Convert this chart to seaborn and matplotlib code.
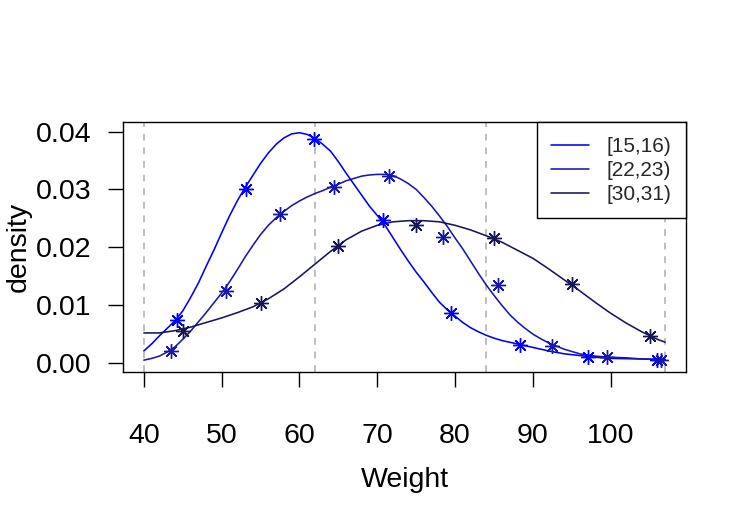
import numpy as np
import pandas as pd
import matplotlib
matplotlib.use("Agg")
import matplotlib.pyplot as plt
import seaborn as sns

# ---------------- data ----------------
labels = ["[15,16)", "[22,23)", "[30,31)"]
colors = ["#0000FF", "#1818B0", "#17175A"]

# density curve [15,16)
c15_x = [40, 41, 42, 43, 44, 45, 46, 47, 48, 49, 50, 51, 52, 53, 54, 55, 56, 57, 58, 59,
         60, 61, 62, 63, 64, 65, 66, 67, 68, 69, 70, 71, 72, 73, 74, 75, 76, 77, 78, 79,
         80, 81, 82, 83, 84, 85, 86, 87, 88, 89, 90, 92, 94, 96, 98, 100, 102, 104, 106, 107]
c15_y = [0.0021, 0.0033, 0.0047, 0.0060, 0.0073, 0.0090, 0.0113, 0.0138, 0.0167, 0.0195,
         0.0225, 0.0254, 0.0280, 0.0303, 0.0324, 0.0345, 0.0363, 0.0378, 0.0389, 0.0396,
         0.0398, 0.0395, 0.0388, 0.0378, 0.0366, 0.0348, 0.0328, 0.0309, 0.0290, 0.0271,
         0.0255, 0.0238, 0.0217, 0.0196, 0.0176, 0.0157, 0.0140, 0.0122, 0.0105, 0.0092,
         0.0081, 0.0070, 0.0061, 0.0054, 0.0048, 0.0043, 0.0039, 0.0036, 0.0033, 0.0030,
         0.0027, 0.0021, 0.0016, 0.0013, 0.0010, 0.0008, 0.00075, 0.0007, 0.00065, 0.00063]

# density curve [22,23)
c22_x = [40, 41, 42, 43, 44, 45, 46, 47, 48, 49, 50, 51, 52, 53, 54, 55, 56, 57, 58, 59,
         60, 61, 62, 63, 64, 65, 66, 67, 68, 69, 70, 71, 72, 73, 74, 75, 76, 77, 78, 79,
         80, 81, 82, 83, 84, 85, 86, 87, 88, 89, 90, 91, 92, 94, 96, 98, 100, 102, 104, 106, 107]
c22_y = [0.0005, 0.0008, 0.0012, 0.0019, 0.0028, 0.0041, 0.0055, 0.0071, 0.0087, 0.0104,
         0.0121, 0.0140, 0.0161, 0.0183, 0.0203, 0.0222, 0.0238, 0.0251, 0.0262, 0.0272,
         0.0280, 0.0287, 0.0293, 0.0298, 0.0304, 0.0309, 0.0315, 0.0319, 0.0323, 0.0325,
         0.0326, 0.0326, 0.0324, 0.0318, 0.0310, 0.0300, 0.0286, 0.0271, 0.0254, 0.0236,
         0.0216, 0.0197, 0.0176, 0.0155, 0.0135, 0.0117, 0.0100, 0.0084, 0.0071, 0.0060,
         0.0050, 0.0042, 0.0035, 0.0024, 0.0016, 0.0012, 0.0010, 0.0009, 0.0007, 0.00065, 0.00063]

# density curve [30,31)
c30_x = [40, 42, 44, 46, 48, 50, 52, 54, 56, 58, 60, 62, 64, 66, 68, 70, 72, 74, 76, 78,
         80, 82, 84, 86, 88, 90, 92, 94, 96, 98, 100, 102, 104, 106, 107]
c30_y = [0.0052, 0.0052, 0.0056, 0.0062, 0.0070, 0.0078, 0.0087, 0.0097, 0.0111, 0.0128,
         0.0149, 0.0171, 0.0193, 0.0213, 0.0228, 0.0238, 0.0244, 0.0246, 0.0246, 0.0244,
         0.0238, 0.0230, 0.0220, 0.0209, 0.0195, 0.0181, 0.0163, 0.0144, 0.0125, 0.0105,
         0.0086, 0.0069, 0.0054, 0.0041, 0.0036]

# observed points (asterisks)
pts_15_x = [44.3, 53.1, 61.9, 70.7, 79.5, 88.3, 97.1, 105.9]
pts_15_y = [0.0075, 0.0300, 0.0387, 0.0248, 0.0086, 0.0031, 0.0011, 0.0006]
pts_22_x = [43.5, 50.5, 57.5, 64.5, 71.5, 78.5, 85.5, 92.5, 99.5, 106.5]
pts_22_y = [0.0021, 0.0124, 0.0257, 0.0305, 0.0324, 0.0217, 0.0134, 0.0029, 0.0011, 0.0006]
pts_30_x = [45.0, 55.0, 65.0, 75.0, 85.0, 95.0, 105.0]
pts_30_y = [0.0056, 0.0103, 0.0203, 0.0239, 0.0216, 0.0137, 0.0046]

vlines = [40, 62, 84, 107]
xticks = [40, 50, 60, 70, 80, 90, 100]
yticks = [0.00, 0.01, 0.02, 0.03, 0.04]

# ---------------- figure ----------------
sns.set_theme(style="white")
plt.rcParams["font.family"] = ["Liberation Sans", "DejaVu Sans"]

fig = plt.figure(figsize=(7.5, 5.25), dpi=100)
ax = fig.add_axes([123 / 750, 1 - 372.3 / 525, (686 - 123) / 750, (372.3 - 122.3) / 525])

for v in vlines:
    ax.axvline(v, color="#BEBEBE", lw=1.4, ls=(0, (3.5, 3.5)), zorder=1)

curves = [(c15_x, c15_y), (c22_x, c22_y), (c30_x, c30_y)]
pts = [(pts_15_x, pts_15_y), (pts_22_x, pts_22_y), (pts_30_x, pts_30_y)]
for lab, col, (cx, cy), (px, py) in zip(labels, colors, curves, pts):
    df = pd.DataFrame({"x": cx, "y": cy})
    sns.lineplot(data=df, x="x", y="y", ax=ax, color=col, lw=1.15, label=lab,
                 estimator=None, sort=True, zorder=3)
    ax.plot(px, py, ls="none", marker=(8, 2, 0), markersize=10.5, mew=1.0,
            color=col, zorder=4)

ax.set_xlim(37.32, 109.68)
ax.set_ylim(-0.0016, 0.0416)
ax.set_xticks(xticks)
ax.set_xticklabels([str(t) for t in xticks])
ax.set_yticks(yticks)
ax.set_yticklabels([f"{t:.2f}" for t in yticks])

for s in ax.spines.values():
    s.set_color("black")
    s.set_linewidth(1.0)

ax.tick_params(axis="both", which="both", direction="out", length=10.8, width=1.0,
               color="black", labelsize=20.5, labelcolor="black")
ax.tick_params(axis="x", pad=26, bottom=True, top=False)
ax.tick_params(axis="y", pad=12, left=True, right=False)

ax.set_xlabel("Weight", fontsize=20.5, color="black", labelpad=13)
ax.set_ylabel("density", fontsize=20.5, color="black", labelpad=3)

leg = ax.legend(loc="upper right", borderaxespad=0, fontsize=15,
                frameon=True, fancybox=False, edgecolor="black",
                handlelength=1.8, handletextpad=0.85, borderpad=0.7,
                labelspacing=0.24)
leg.get_frame().set_linewidth(1.0)
leg.get_frame().set_alpha(1)

fig.savefig("out.png", dpi=100, facecolor="white")
